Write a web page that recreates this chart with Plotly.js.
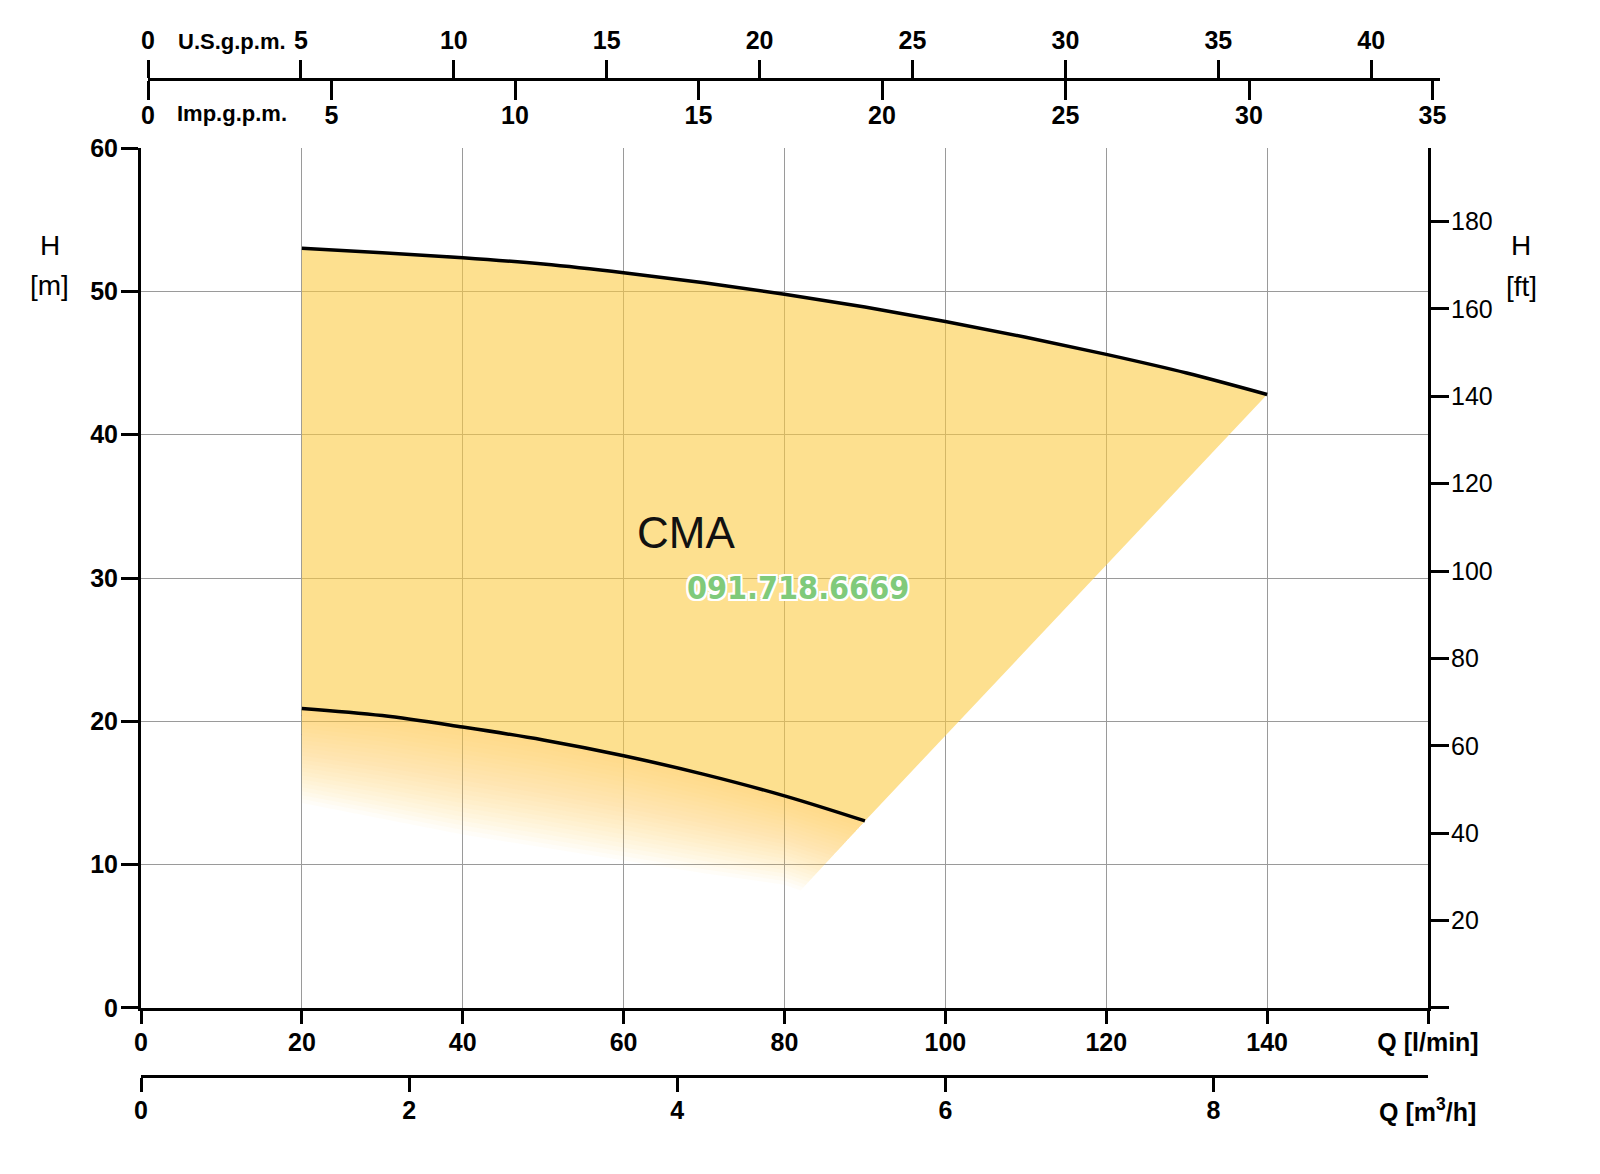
<!DOCTYPE html>
<html>
<head>
<meta charset="utf-8">
<script src="https://cdn.plot.ly/plotly-3.0.1.min.js"></script>
<style>html,body{margin:0;padding:0;background:#fff}</style>
</head>
<body>
<div id="chart" style="width:1600px;height:1174px"></div>
<script>
// flow Q in l/min, head H in m
const upperQ = [20, 30, 40, 50, 60, 70, 80, 90, 100, 110, 120, 130, 140];
const upperH = [53.0, 52.7, 52.35, 51.9, 51.3, 50.6, 49.8, 48.9, 47.9, 46.8, 45.6, 44.3, 42.8];
const lowerQ = [20, 30, 40, 50, 60, 70, 80, 90];
const lowerH = [20.9, 20.4, 19.6, 18.7, 17.6, 16.3, 14.8, 13.05];
// edge where the yellow fades out under the lower curve (one point for each lower point)
const fadeQ = [20, 30, 40, 50, 60, 70, 80, 82];
const fadeH = [14.3, 13.2, 12.1, 11.2, 10.3, 9.4, 8.6, 8.2];

const lminTicks = [0, 20, 40, 60, 80, 100, 120, 140, 160];
const lminLabels = ['0', '20', '40', '60', '80', '100', '120', '140', 'Q [l/min]'];
const m3hTicks = [0, 2, 4, 6, 8];
const mTicks = [0, 10, 20, 30, 40, 50, 60];
const ftTicks = [0, 20, 40, 60, 80, 100, 120, 140, 160, 180];
const ftLabels = ['', '20', '40', '60', '80', '100', '120', '140', '160', '180'];
const usTicks = [0, 5, 10, 15, 20, 25, 30, 35, 40];
const impTicks = [0, 5, 10, 15, 20, 25, 30, 35];

const YELLOW = 'rgba(252,203,68,0.6)';
const tickFont = { family: 'Liberation Sans, Arial, sans-serif', size: 25, color: '#000', weight: 'bold' };
const unitFont = { family: 'Liberation Sans, Arial, sans-serif', size: 22, color: '#000', weight: 'bold' };
const plainFont = { family: 'Liberation Sans, Arial, sans-serif', size: 25, color: '#000' };
const labelFont = { family: 'Liberation Sans, Arial, sans-serif', size: 28, color: '#000' };

let traces = [];

// working range of the pump
traces.push({
    x: upperQ.concat(lowerQ.slice().reverse()),
    y: upperH.concat(lowerH.slice().reverse()),
    mode: 'lines', fill: 'toself', fillcolor: YELLOW,
    line: { width: 0 }, hoverinfo: 'skip', showlegend: false
});

// soft fade under the lower curve: stacked see-through bands
const nBands = 24;
for (let k = 1; k <= nBands; k++) {
    let t = k / nBands;
    let bx = [], by = [];
    for (let i = lowerQ.length - 1; i >= 0; i--) {
        bx.push(lowerQ[i] + (fadeQ[i] - lowerQ[i]) * t);
        by.push(lowerH[i] + (fadeH[i] - lowerH[i]) * t);
    }
    traces.push({
        x: lowerQ.concat(bx),
        y: lowerH.concat(by),
        mode: 'lines', fill: 'toself', fillcolor: 'rgba(252,203,68,0.038)',
        line: { width: 0 }, hoverinfo: 'skip', showlegend: false
    });
}

traces.push({
    x: upperQ, y: upperH, mode: 'lines',
    line: { color: '#000', width: 3.5, shape: 'spline' },
    hoverinfo: 'skip', showlegend: false
});
traces.push({
    x: lowerQ, y: lowerH, mode: 'lines',
    line: { color: '#000', width: 3.5, shape: 'spline' },
    hoverinfo: 'skip', showlegend: false
});

// empty traces so the extra unit axes get drawn (on a hidden y so no stray grid)
[['x2', 'y3'], ['x3', 'y3'], ['x4', 'y3'], ['x', 'y2']].forEach(function (ax) {
    traces.push({ x: [], y: [], xaxis: ax[0], yaxis: ax[1], mode: 'lines', hoverinfo: 'skip', showlegend: false });
});

const mainDomain = [0, 1287 / 1299];
const topDomain = [7 / 1299, 1];

const layout = {
    width: 1600, height: 1174,
    margin: { l: 141, r: 160, t: 79, b: 98 },
    paper_bgcolor: '#fff', plot_bgcolor: 'rgba(0,0,0,0)',
    showlegend: false,
    xaxis: {
        domain: mainDomain, range: [0, 160], anchor: 'y',
        tickvals: lminTicks, ticktext: lminLabels,
        ticks: 'outside', ticklen: 13, tickwidth: 3, tickcolor: '#000',
        showline: true, linewidth: 3, linecolor: '#000',
        showgrid: true, gridcolor: '#9a9a9a', gridwidth: 1, zeroline: false,
        tickfont: tickFont, ticklabelstandoff: -3
    },
    yaxis: {
        domain: [0.06821, 0.93079], range: [0, 60], anchor: 'x',
        tickvals: mTicks,
        ticks: 'outside', ticklen: 17, tickwidth: 3, tickcolor: '#000',
        showline: true, linewidth: 3, linecolor: '#000',
        showgrid: true, gridcolor: '#9a9a9a', gridwidth: 1, zeroline: false,
        tickfont: tickFont, ticklabelstandoff: -2
    },
    yaxis2: {
        overlaying: 'y', side: 'right', anchor: 'x', range: [0, 60 * 3.28084],
        tickvals: ftTicks, ticktext: ftLabels,
        ticks: 'outside', ticklen: 18, tickwidth: 3, tickcolor: '#000',
        showline: true, linewidth: 3, linecolor: '#000',
        showgrid: false, zeroline: false,
        tickfont: plainFont, ticklabelstandoff: -3
    },
    yaxis3: {
        overlaying: 'y', anchor: 'x', range: [0, 1], visible: false,
        showgrid: false, zeroline: false
    },
    xaxis2: {
        domain: mainDomain, range: [0, 160 * 0.06], anchor: 'free', position: 0, side: 'bottom',
        tickvals: m3hTicks,
        ticks: 'outside', ticklen: 14, tickwidth: 3, tickcolor: '#000',
        showline: true, linewidth: 3, linecolor: '#000',
        showgrid: false, zeroline: false,
        tickfont: tickFont, ticklabelstandoff: -3
    },
    xaxis3: {
        domain: topDomain, range: [0, 1292 / 30.58], anchor: 'free', position: 1, side: 'top',
        tickvals: usTicks,
        ticks: 'outside', ticklen: 18, tickwidth: 3, tickcolor: '#000',
        showline: true, linewidth: 3, linecolor: '#000',
        showgrid: false, zeroline: false,
        tickfont: tickFont, ticklabelstandoff: 1
    },
    xaxis4: {
        domain: topDomain, range: [0, 1292 / 36.7], anchor: 'free', position: 1, side: 'bottom',
        tickvals: impTicks,
        ticks: 'outside', ticklen: 19, tickwidth: 3, tickcolor: '#000',
        showline: true, linewidth: 3, linecolor: '#000',
        showgrid: false, zeroline: false,
        tickfont: tickFont, ticklabelstandoff: -6
    },
    annotations: [
        { text: 'U.S.g.p.m.', xref: 'paper', yref: 'paper', x: 0.0700, y: 1.0381, xanchor: 'center', yanchor: 'middle', showarrow: false, font: unitFont },
        { text: 'Imp.g.p.m.', xref: 'paper', yref: 'paper', x: 0.0700, y: 0.9650, xanchor: 'center', yanchor: 'middle', showarrow: false, font: unitFont },
        { text: 'Q [m<sup>3</sup>/h]', xref: 'paper', yref: 'paper', x: 0.99, y: -0.0341, xanchor: 'center', yanchor: 'middle', showarrow: false, font: tickFont },
        { text: 'H', xref: 'paper', yref: 'paper', x: -0.0701, y: 0.8335, xanchor: 'center', yanchor: 'middle', showarrow: false, font: labelFont },
        { text: '[m]', xref: 'paper', yref: 'paper', x: -0.0701, y: 0.7924, xanchor: 'center', yanchor: 'middle', showarrow: false, font: labelFont },
        { text: 'H', xref: 'paper', yref: 'paper', x: 1.0624, y: 0.8335, xanchor: 'center', yanchor: 'middle', showarrow: false, font: labelFont },
        { text: '[ft]', xref: 'paper', yref: 'paper', x: 1.0624, y: 0.7914, xanchor: 'center', yanchor: 'middle', showarrow: false, font: labelFont },
        { text: 'CMA', xref: 'x', yref: 'y', x: 67.8, y: 33.2, xanchor: 'center', yanchor: 'middle', showarrow: false, font: { family: 'Liberation Sans, Arial', size: 44, color: '#111' } },
        {
            text: '091.718.6669', xref: 'x', yref: 'y', x: 81.7, y: 29.3, xanchor: 'center', yanchor: 'middle', showarrow: false,
            font: {
                family: 'DejaVu Sans Condensed, Liberation Sans', size: 32, weight: 'bold', color: 'rgb(128,202,122)',
                shadow: '2px 0 0 #fff, -2px 0 0 #fff, 0 2px 0 #fff, 0 -2px 0 #fff, 2px 2px 0 #fff, -2px -2px 0 #fff, 2px -2px 0 #fff, -2px 2px 0 #fff'
            }
        }
    ]
};

Plotly.newPlot('chart', traces, layout, { staticPlot: true });
</script>
</body>
</html>
